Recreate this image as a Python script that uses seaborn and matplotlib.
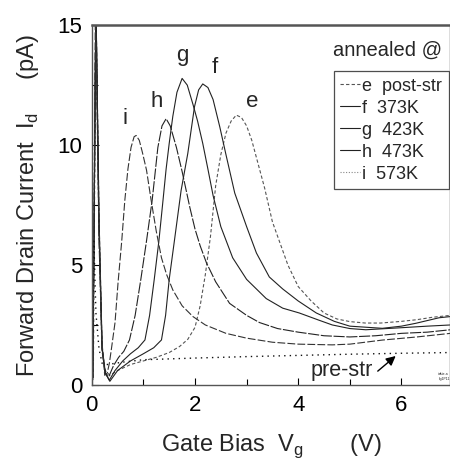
import matplotlib
matplotlib.use("Agg")
import matplotlib.pyplot as plt
import seaborn as sns
from matplotlib.lines import Line2D

# ---- data ----
V_e = [0.03,0.08,0.14,0.2,0.26,0.35,0.5,0.75,1.0,1.25,1.5,1.7,1.86,2.0,2.1,2.2,2.3,2.4,2.5,2.6,2.7,2.8,2.9,3.0,3.1,3.2,3.35,3.5,3.65,3.8,4.0,4.25,4.5,4.75,5.0,5.3,5.6,6.0,6.3,6.6,6.95]
I_e = [0.3,16,7,1.5,0.6,0.4,0.6,0.85,1.0,1.15,1.35,1.6,1.9,2.4,3.3,4.6,6.2,8.3,9.6,10.5,11.0,11.25,11.15,10.8,10.2,9.4,8.2,6.8,5.9,5.0,4.1,3.5,3.0,2.75,2.64,2.58,2.58,2.65,2.72,2.82,2.9]

V_f = [0.02,0.08,0.14,0.2,0.26,0.35,0.5,0.75,1.0,1.2,1.35,1.43,1.5,1.6,1.73,1.86,1.99,2.07,2.15,2.25,2.35,2.48,2.6,2.77,3.0,3.19,3.44,3.7,4.0,4.35,4.7,5.0,5.63,6.0,6.28,6.73,6.95]
I_f = [0.3,16,7,1.6,0.5,0.15,0.6,1.0,1.3,1.55,1.875,2.9,4.4,6.0,8.1,9.65,11.6,12.3,12.55,12.4,11.9,10.76,9.6,8.0,6.6,5.5,4.5,4.0,3.5,3.0,2.65,2.45,2.36,2.45,2.57,2.8,2.85]

V_g = [0.02,0.08,0.14,0.2,0.26,0.34,0.45,0.6,0.75,0.9,1.03,1.12,1.21,1.3,1.38,1.44,1.5,1.57,1.65,1.75,1.85,1.96,2.05,2.15,2.25,2.35,2.5,2.73,3.0,3.38,3.7,4.02,4.4,4.66,5.0,5.31,5.96,6.5,6.95]
I_g = [0.3,16,6.5,1.5,0.5,0.2,0.6,1.0,1.3,1.55,1.875,2.9,4.4,6.0,7.7,9.0,10.07,11.2,12.2,12.78,12.5,11.7,11.0,10.07,9.0,7.9,6.6,5.3,4.4,3.6,3.2,3.0,2.7,2.5,2.35,2.3,2.38,2.45,2.5]

V_h = [0.02,0.08,0.14,0.2,0.26,0.33,0.42,0.52,0.62,0.73,0.84,0.95,1.06,1.17,1.28,1.36,1.44,1.52,1.64,1.75,1.83,1.9,2.0,2.1,2.22,2.4,2.67,3.0,3.25,3.6,4.0,4.5,5.0,5.5,6.0,6.5,6.95]
I_h = [0.3,16,6,1.4,0.5,0.35,0.8,1.15,1.4,1.875,2.9,4.4,6.0,7.7,9.9,10.8,11.1,10.8,9.9,8.9,8.1,7.4,6.5,5.8,5.1,4.3,3.4,2.9,2.6,2.35,2.2,2.05,2.0,2.05,2.15,2.2,2.3]

V_i = [0.02,0.07,0.13,0.19,0.25,0.3,0.34,0.38,0.45,0.51,0.58,0.64,0.7,0.76,0.82,0.86,0.92,0.98,1.06,1.15,1.25,1.35,1.45,1.57,1.75,1.96,2.2,2.6,3.0,3.5,4.0,4.66,5.0,5.63,6.3,6.95]
I_i = [0.2,16,7.5,2.0,0.4,0.5,0.9,1.5,2.6,4.3,6.0,7.7,9.0,9.9,10.35,10.4,10.2,9.7,8.96,7.7,6.4,5.3,4.6,3.96,3.3,2.85,2.5,2.15,1.95,1.78,1.7,1.67,1.7,1.87,2.0,2.15]

V_pre = [0.01,0.04,0.08,0.14,0.2,0.3,0.6,1.0,2.0,3.0,4.0,5.0,6.0,6.95]
I_pre = [0.2,6.0,3.0,1.5,0.9,0.85,0.95,1.05,1.12,1.18,1.23,1.28,1.32,1.35]

legend_labels = ["e  post-str", "f  373K", "g  423K", "h  473K", "i  573K"]
curve_letters = ["i", "h", "g", "f", "e"]
letter_pos_v = [0.64, 1.26, 1.76, 2.38, 3.1]
letter_pos_I = [11.1, 11.8, 13.75, 13.25, 11.8]
x_ticks = [0, 2, 4, 6]
y_ticks = [0, 5, 10, 15]

# ---- style ----
sns.set_style("ticks")
plt.rcParams['font.family'] = ['Liberation Sans', 'DejaVu Sans']

fig = plt.figure(figsize=(4.5, 4.66), dpi=100)
ax = fig.add_axes([0.204, 0.174, 0.797, 0.772])

dark = "#222222"
sns.lineplot(x=V_e, y=I_e, ax=ax, sort=False, estimator=None, color="#555555",
             linewidth=0.8, linestyle=(0, (3, 2)))
sns.lineplot(x=V_f, y=I_f, ax=ax, sort=False, estimator=None, color=dark, linewidth=0.8)
sns.lineplot(x=V_g, y=I_g, ax=ax, sort=False, estimator=None, color=dark, linewidth=0.8)
sns.lineplot(x=V_h, y=I_h, ax=ax, sort=False, estimator=None, color=dark, linewidth=0.8,
             linestyle=(0, (10, 1.5)))
sns.lineplot(x=V_i, y=I_i, ax=ax, sort=False, estimator=None, color="#333333", linewidth=0.8,
             linestyle=(0, (7, 2)))
sns.lineplot(x=V_pre, y=I_pre, ax=ax, sort=False, estimator=None, color="#111111",
             linewidth=1.0, linestyle=(0, (1, 3)))

ax.set_xlim(0, 6.95)
ax.set_ylim(0, 15)
ax.set_xticks(x_ticks)
ax.set_yticks(y_ticks)
ax.set_xticks([1, 3, 5], minor=True)
ax.set_yticks([2.5, 7.5, 12.5], minor=True)
ax.tick_params(axis='both', which='both', direction='in', labelsize=16, colors='black')
ax.tick_params(axis='both', which='major', length=5, width=0.8, pad=7)
ax.tick_params(axis='both', which='minor', length=4, width=0.8)
for s in ax.spines.values():
    s.set_color("#555555")
    s.set_linewidth(1.0)
ax.spines['top'].set_linewidth(1.8)

ax.set_xlabel(r"Gate Bias  V$_\mathregular{g}$       (V)", fontsize=17, labelpad=12)
ax.set_ylabel(r"Forward Drain Current  I$_\mathregular{d}$     (pA)", fontsize=17, labelpad=12)

for L, v, i in zip(curve_letters, letter_pos_v, letter_pos_I):
    ax.text(v, i, L, fontsize=16, ha='center', va='center')

handles = [
    Line2D([], [], color="#555555", linewidth=0.8, linestyle=(0, (3, 2))),
    Line2D([], [], color=dark, linewidth=0.8),
    Line2D([], [], color=dark, linewidth=0.8),
    Line2D([], [], color=dark, linewidth=0.8),
    Line2D([], [], color="#888888", linewidth=0.8, linestyle=(0, (1, 1.5))),
]
leg = ax.legend(handles, legend_labels, loc='upper left', bbox_to_anchor=(0.674, 0.872),
                fontsize=13, handlelength=1.1, handletextpad=0.15, borderpad=0.35,
                labelspacing=0.28, frameon=True, fancybox=False, borderaxespad=0)
leg.get_frame().set_edgecolor("#222222")
leg.get_frame().set_linewidth(0.9)

ax.text(0.825, 0.93, "annealed @", transform=ax.transAxes, fontsize=14.5,
        ha='center', va='center')

ax.text(4.85, 0.6, "pre-str", fontsize=15.5, ha='center', va='center')
ax.annotate("", xy=(5.93, 1.28), xytext=(5.5, 0.5),
            arrowprops=dict(arrowstyle='-|>', color='black', lw=1.0, mutation_scale=14))
ax.text(6.7, 0.35, "idate-a\nfig1P11", fontsize=2.5, ha='left', va='center')

fig.savefig("out.png", dpi=100)
